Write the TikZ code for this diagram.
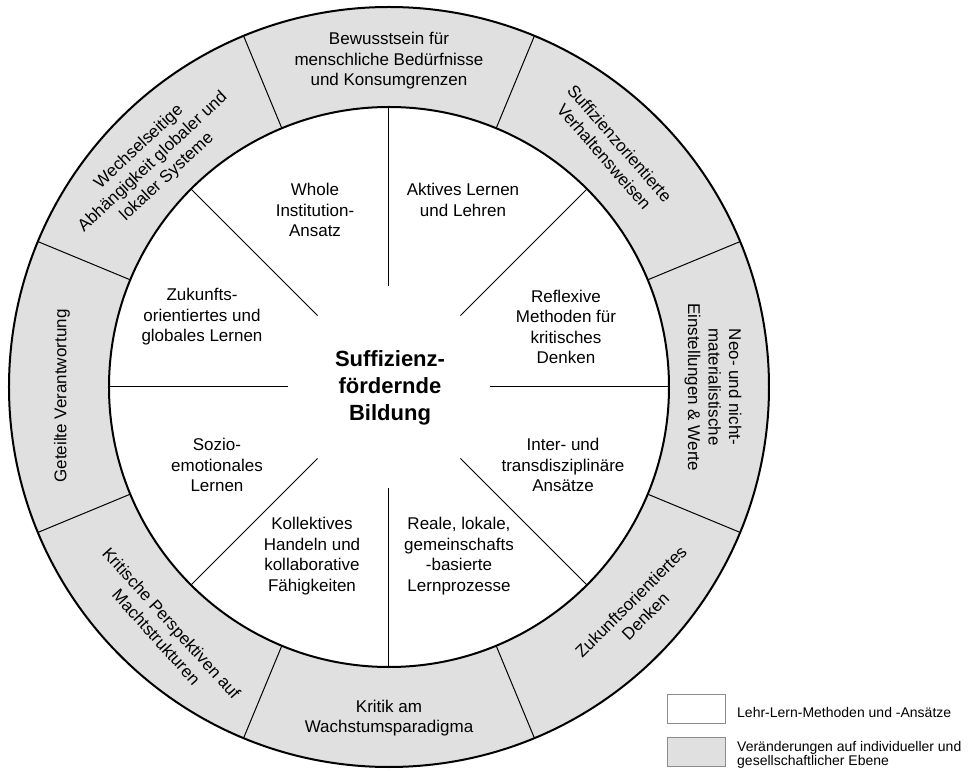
\documentclass[tikz,border=0pt]{standalone}
\usepackage{fontspec}
\setmainfont{Liberation Sans}
\definecolor{ringfill}{gray}{0.88}
\definecolor{legline}{gray}{0.55}
\begin{document}
\begin{tikzpicture}[x=1pt,y=1pt,
  lbl/.style={align=center, font=\fontsize{17}{20.5}\selectfont, inner sep=0pt},
  secline/.style={line width=1pt, black},
  ringline/.style={line width=2pt, black},
  legbox/.style={draw=legline, line width=0.9pt, minimum width=58pt, minimum height=29pt, inner sep=0pt, anchor=north west},
  legtxt/.style={anchor=west, align=left, inner sep=0pt, font=\fontsize{14}{11.5}\selectfont}]
\useasboundingbox (-389,-384) rectangle (581,387);
% ring
\fill[ringfill, even odd rule] (0,0) circle (380) (0,0) circle (280);
\foreach \a in {0,45,...,315} \draw[secline] (\a:101) -- (\a:280);
\foreach \a in {22.5,67.5,112.5,157.5,202.5,247.5,292.5,337.5} \draw[secline] (\a:280) -- (\a:380);
\draw[ringline] (0,0) circle (380);
\draw[ringline] (0,0) circle (280);
% centre
\node[align=center, inner sep=0pt, font=\bfseries\fontsize{22}{27}\selectfont] (title) at (1,-1) {Suffizienz-\\fördernde\\Bildung};
% inner sectors
\node[lbl] (whole) at (-74,177) {Whole\\Institution-\\Ansatz};
\node[lbl] (aktiv) at (74,187) {Aktives Lernen\\und Lehren};
\node[lbl] (refl) at (177,60) {Reflexive\\Methoden für\\kritisches\\Denken};
\node[lbl] (inter) at (174,-78) {Inter- und\\transdisziplinäre\\Ansätze};
\node[lbl] (reale) at (70,-169) {Reale, lokale,\\gemeinschafts\\-basierte\\Lernprozesse};
\node[lbl] (koll) at (-77,-169) {Kollektives\\Handeln und\\kollaborative\\Fähigkeiten};
\node[lbl] (sozio) at (-172,-78) {Sozio-\\emotionales\\Lernen};
\node[lbl] (zuk) at (-187,70) {Zukunfts-\\orientiertes und\\globales Lernen};
% outer ring
\node[lbl] (bew) at (0,326) {Bewusstsein für\\menschliche Bedürfnisse\\und Konsumgrenzen};
\node[lbl, rotate=-49] (suffv) at (223,237) {Suffizienzorientierte\\Verhaltensweisen};
\node[lbl, rotate=-90] (neo) at (324,0) {Neo- und nicht-\\materialistische\\Einstellungen \& Werte};
\node[lbl, rotate=45] (zukd) at (249,-222) {Zukunftsorientiertes\\Denken};
\node[lbl] (krit) at (0,-331) {Kritik am\\Wachstumsparadigma};
\node[lbl, rotate=-48] (macht) at (-225,-243) {Kritische Perspektiven auf\\Machtstrukturen};
\node[lbl, rotate=90] (get) at (-327,-9) {Geteilte Verantwortung};
\node[lbl, rotate=43] (wech) at (-236,225) {Wechselseitige\\Abhängigkeit globaler und\\lokaler Systeme};
% legend
\node[legbox, fill=white] (leg1) at (278,-307) {};
\node[legbox, fill=ringfill] (leg2) at (278,-350) {};
\node[legtxt] (leg1t) at (348,-325) {Lehr-Lern-Methoden und -Ansätze};
\node[legtxt] (leg2t) at (348,-367.5) {Veränderungen auf individueller und\\gesellschaftlicher Ebene};
\end{tikzpicture}
\end{document}
